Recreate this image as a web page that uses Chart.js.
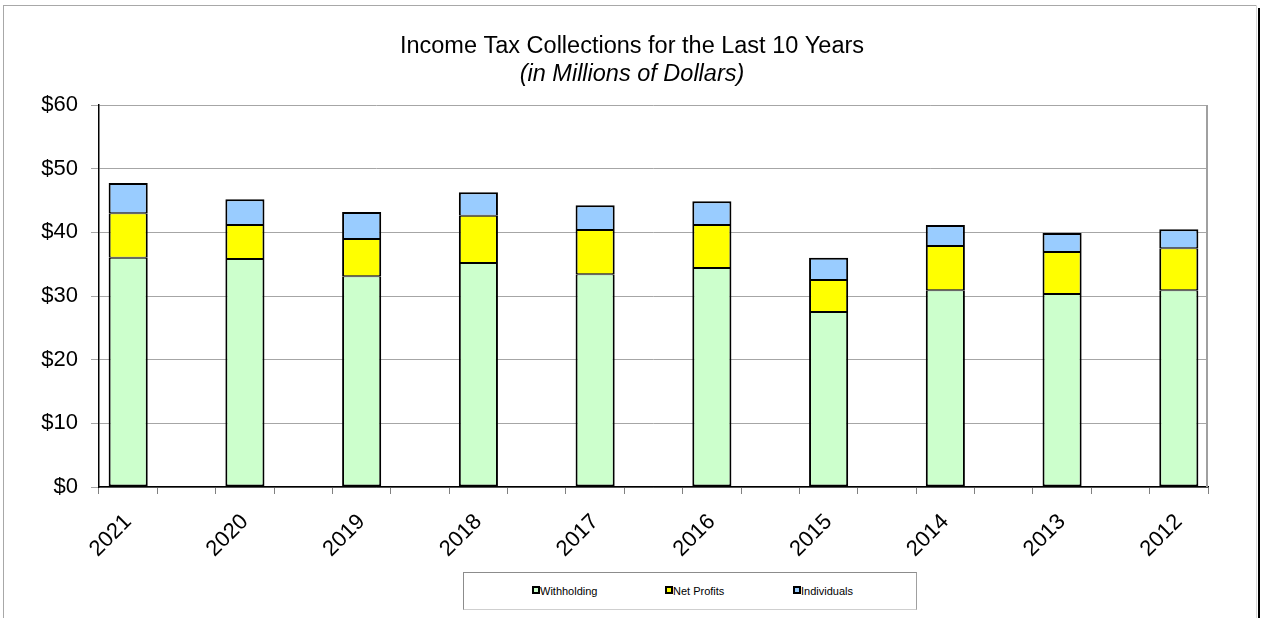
<!DOCTYPE html>
<html>
<head>
<meta charset="utf-8">
<script src="https://cdn.jsdelivr.net/npm/chart.js@4.4.1/dist/chart.umd.min.js"></script>
<style>
  html, body { margin: 0; padding: 0; background: #fff; width: 1261px; height: 618px; overflow: hidden; }
  #wrap { position: absolute; left: 0; top: 0; width: 1261px; height: 618px; }
  canvas { position: absolute; left: 0; top: 0; }
  .frameTop { position: absolute; left: 3px; top: 5px; width: 1254px; height: 0; border-top: 1px solid #a8a8a8; }
  .frameLeft { position: absolute; left: 3px; top: 5px; width: 0; height: 613px; border-left: 1px solid #a8a8a8; }
  .frameRightLight { position: absolute; left: 1256px; top: 5px; width: 0; height: 613px; border-left: 1px solid #d8d8d8; }
  .frameRight { position: absolute; left: 1258px; top: 8px; width: 2px; height: 610px; background: #000; }
  #legend { position: absolute; left: 463px; top: 572px; width: 452px; height: 36px;
            border: 1px solid #8c8c8c; border-bottom-color: #cfcfcf; border-right-color: #a0a0a0; background: #fff;
            font-family: "Liberation Sans", Arial, sans-serif; font-size: 11px; color: #000; }
  .item { position: absolute; top: 12px; height: 13px; line-height: 13px; white-space: nowrap; }
  .mark { display: inline-block; width: 4px; height: 4px; border: 2px solid #000; vertical-align: 1px; margin-right: 0px; }
</style>
</head>
<body>
<div id="wrap">
  <canvas id="c" width="1261" height="618"></canvas>
  <div class="frameTop"></div>
  <div class="frameLeft"></div>
  <div class="frameRightLight"></div>
  <div class="frameRight"></div>
  <div id="legend"></div>
</div>
<script>
// ---- Data (millions of dollars) ----
const years = ['2021','2020','2019','2018','2017','2016','2015','2014','2013','2012'];
const withholding = [36.0, 35.8, 33.1, 35.2, 33.4, 34.4, 27.5, 30.9, 30.3, 30.9];
const netProfits  = [7.0, 5.35, 5.85, 7.4, 6.95, 6.75, 5.0, 6.95, 6.6, 6.6];
const individuals = [4.75, 4.05, 4.25, 3.7, 3.9, 3.75, 3.5, 3.3, 3.0, 3.0];
const seriesNames = ['Withholding', 'Net Profits', 'Individuals'];
const seriesColors = ['#CCFFCC', '#FFFF00', '#99CCFF'];
const yTicks = [0, 10, 20, 30, 40, 50, 60];

// The source chart places an empty category between each year.
function spread(arr, blank) {
  const out = [];
  arr.forEach((v, i) => { out.push(v); if (i < arr.length - 1) out.push(blank); });
  return out;
}
const labels = spread(years, '');

const borders = [
  { top: 1, bottom: 2, left: 2, right: 2 },
  { top: 1, bottom: 1, left: 2, right: 2 },
  { top: 2, bottom: 1, left: 2, right: 2 }
];

const datasets = [withholding, netProfits, individuals].map((vals, i) => ({
  label: seriesNames[i],
  data: spread(vals, null),
  backgroundColor: seriesColors[i],
  borderColor: '#000',
  borderWidth: borders[i],
  borderSkipped: false,
  barPercentage: 0.67,
  categoryPercentage: 1.0
}));

const FONT = '"Liberation Sans", Arial, sans-serif';

const plotBorder = {
  id: 'plotBorder',
  beforeDatasetsDraw(chart) {
    const a = chart.chartArea, ctx = chart.ctx;
    ctx.save();
    ctx.strokeStyle = '#a0a0a0';
    ctx.lineWidth = 2;
    ctx.beginPath();
    ctx.moveTo(a.right - 1, a.top);
    ctx.lineTo(a.right - 1, a.bottom);
    ctx.stroke();
    ctx.restore();
  }
};

new Chart(document.getElementById('c'), {
  type: 'bar',
  data: { labels, datasets },
  plugins: [plotBorder],
  options: {
    responsive: false,
    devicePixelRatio: 1,
    animation: false,
    layout: { padding: { left: 3, right: 0, top: 0, bottom: 0 } },
    plugins: {
      legend: { display: false },
      tooltip: { enabled: false },
      title: {
        display: true,
        text: 'Income Tax Collections for the Last 10 Years',
        color: '#000',
        font: { family: FONT, size: 23.5, weight: 'normal' },
        padding: { top: 32, bottom: 0 }
      },
      subtitle: {
        display: true,
        text: '(in Millions of Dollars)',
        color: '#000',
        font: { family: FONT, size: 23.5, style: 'italic', weight: 'normal' },
        padding: { top: 0, bottom: 16.6 }
      }
    },
    scales: {
      x: {
        stacked: true,
        afterFit(s) { s.height = 131; },
        grid: { display: true, drawOnChartArea: false, drawTicks: true, tickLength: 7, offset: true, color: '#808080', lineWidth: 1 },
        border: { display: true, color: '#000', width: 1.5 },
        ticks: {
          autoSkip: false, minRotation: 45, maxRotation: 45, padding: 15,
          color: '#000', font: { family: FONT, size: 22 }
        }
      },
      y: {
        stacked: true,
        min: 0, max: 60,
        afterFit(s) { s.width = 96; },
        afterBuildTicks(s) { s.ticks = yTicks.map(v => ({ value: v })); },
        grid: { color: '#a6a6a6', lineWidth: 1, tickLength: 8, drawTicks: true },
        border: { display: true, color: '#000', width: 1.5 },
        ticks: {
          padding: 13, color: '#000', font: { family: FONT, size: 22 },
          callback: v => '$' + v
        }
      },
      // empty spacer on the right so the plot area ends where the reference's does
      spacer: {
        type: 'linear',
        position: 'right',
        display: true,
        afterFit(s) { s.width = 53; },
        grid: { display: false, drawOnChartArea: false, drawTicks: false },
        border: { display: false },
        ticks: { display: false }
      }
    }
  }
});

// Legend (HTML), built from the series arrays
const legendPos = [68, 201, 329];
const lg = document.getElementById('legend');
seriesNames.forEach((n, i) => {
  const d = document.createElement('div');
  d.className = 'item';
  d.style.left = legendPos[i] + 'px';
  const m = document.createElement('span');
  m.className = 'mark';
  m.style.background = seriesColors[i];
  d.appendChild(m);
  d.appendChild(document.createTextNode(n));
  lg.appendChild(d);
});
</script>
</body>
</html>
